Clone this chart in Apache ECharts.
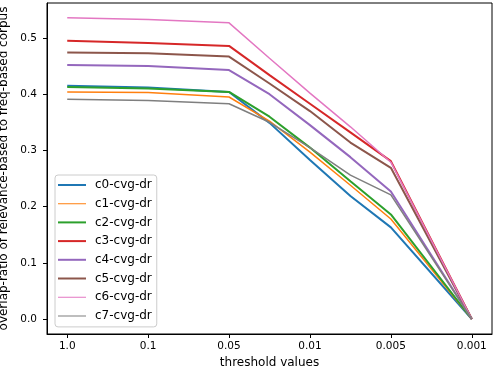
<!DOCTYPE html>
<html>
<head>
<meta charset="utf-8">
<script src="https://cdn.jsdelivr.net/npm/echarts@6/dist/echarts.min.js"></script>
<style>
  html, body { margin: 0; padding: 0; background: #fff; }
  #chart { width: 494px; height: 370px; }
</style>
</head>
<body>
<div id="chart"></div>
<script>
// threshold labels, evenly spaced at positions 0..5
var tickLabels = ['1.0', '0.1', '0.05', '0.01', '0.005', '0.001'];
// x positions of the sampled points (ticks plus a couple of in-between points)
var xs = [0, 1, 2, 2.5, 3, 3.5, 4, 5];

var c0 = [0.415, 0.412, 0.404, 0.349, 0.283, 0.219, 0.163, 0.0];
var c1 = [0.404, 0.403, 0.395, 0.352, 0.297, 0.238, 0.178, 0.0];
var c2 = [0.413, 0.410, 0.404, 0.360, 0.305, 0.245, 0.186, 0.0];
var c3 = [0.495, 0.491, 0.486, 0.434, 0.383, 0.332, 0.281, 0.0];
var c4 = [0.452, 0.450, 0.443, 0.400, 0.345, 0.288, 0.227, 0.0];
var c5 = [0.474, 0.473, 0.467, 0.419, 0.370, 0.314, 0.269, 0.0];
var c6 = [0.536, 0.533, 0.527, 0.464, 0.402, 0.342, 0.279, 0.0];
var c7 = [0.391, 0.389, 0.383, 0.350, 0.305, 0.256, 0.221, 0.0];

var names = ['c0-cvg-dr', 'c1-cvg-dr', 'c2-cvg-dr', 'c3-cvg-dr',
             'c4-cvg-dr', 'c5-cvg-dr', 'c6-cvg-dr', 'c7-cvg-dr'];
var values = [c0, c1, c2, c3, c4, c5, c6, c7];
var colors = ['#1f77b4', '#ff7f0e', '#2ca02c', '#d62728',
              '#9467bd', '#8c564b', '#e377c2', '#7f7f7f'];
var widths = [2, 1.5, 2, 2, 2, 2, 1.5, 1.5];

var font = 'DejaVu Sans';

// legend swatches: thick = full 2px bar, thin = 1px bar inside a 2px box
var thickIcon = 'path://M0,0H28V2H0Z';
var thinIcon = 'path://M0,0L0,0ZM0,0.5H28V1.5H0ZM0,2L0,2Z';

var series = names.map(function (n, i) {
  return {
    name: n,
    type: 'line',
    symbol: 'none',
    showSymbol: false,
    color: colors[i],
    lineStyle: { width: widths[i], color: colors[i] },
    data: xs.map(function (x, j) { return [x, values[i][j]]; })
  };
});

var chart = echarts.init(document.getElementById('chart'));
chart.setOption({
  animation: false,
  backgroundColor: '#fff',
  grid: {
    left: 47, right: 2, top: 3, bottom: 36,
    outerBoundsMode: 'none',
    show: true, borderColor: '#000', borderWidth: 1
  },
  xAxis: {
    type: 'value',
    min: -0.25, max: 5.25,
    name: 'threshold values',
    nameLocation: 'middle',
    nameGap: 23,
    nameTextStyle: { fontFamily: font, fontSize: 12, color: '#000' },
    axisLine: { show: true, onZero: false, lineStyle: { color: '#000', width: 1 } },
    axisTick: { show: true, length: 4, customValues: [0, 1, 2, 3, 4, 5], lineStyle: { color: '#000' } },
    axisLabel: {
      customValues: [0, 1, 2, 3, 4, 5],
      margin: 7,
      fontFamily: font, fontSize: 10.5, color: '#000',
      formatter: function (v) { return tickLabels[Math.round(v)]; }
    },
    splitLine: { show: false }
  },
  yAxis: {
    type: 'value',
    min: -0.0267, max: 0.5623,
    name: 'overlap-ratio of relevance-based to freq-based corpus',
    nameLocation: 'middle',
    nameGap: 35,
    nameTextStyle: { fontFamily: font, fontSize: 12, color: '#000' },
    axisLine: { show: true, onZero: false, lineStyle: { color: '#000', width: 1 } },
    axisTick: { show: true, length: 4, customValues: [0, 0.1, 0.2, 0.3, 0.4, 0.5], lineStyle: { color: '#000' } },
    axisLabel: {
      customValues: [0, 0.1, 0.2, 0.3, 0.4, 0.5],
      margin: 10,
      fontFamily: font, fontSize: 10.5, color: '#000',
      formatter: function (v) { return v.toFixed(1); }
    },
    splitLine: { show: false }
  },
  legend: {
    orient: 'vertical',
    left: 55, top: 175,
    padding: [3, 5, 4, 3],
    itemWidth: 28, itemHeight: 2,
    itemGap: 4.7,
    backgroundColor: 'rgba(255,255,255,0.8)',
    borderColor: '#cccccc', borderWidth: 1, borderRadius: 3,
    textStyle: { fontFamily: font, fontSize: 12, lineHeight: 14, color: '#000', padding: [0, 0, 0, 4] },
    data: names.map(function (n, i) {
      return { name: n, icon: widths[i] > 1.5 ? thickIcon : thinIcon };
    })
  },
  series: series
});
</script>
</body>
</html>
